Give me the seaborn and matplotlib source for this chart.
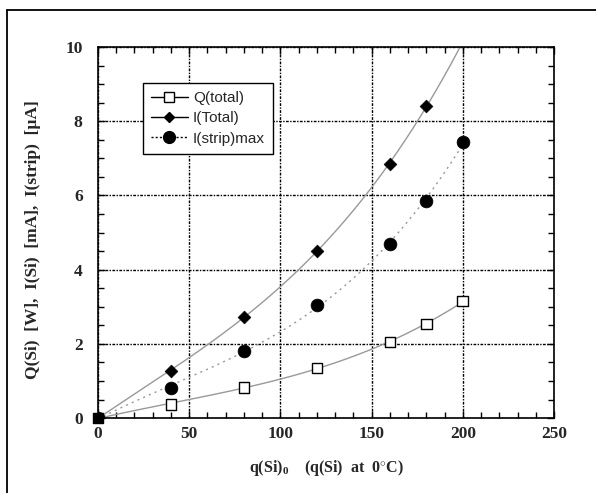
import numpy as np
import pandas as pd
import matplotlib
matplotlib.use("Agg")
import matplotlib.pyplot as plt
from matplotlib.lines import Line2D
from matplotlib.ticker import MultipleLocator
import seaborn as sns

# ---- data ----
q_si = [0, 40, 80, 120, 160, 180, 200]
q_total = [0, 0.37, 0.83, 1.35, 2.05, 2.53, 3.15]
q_si_itot = [0, 40, 80, 120, 160, 180]
i_total = [0, 1.27, 2.73, 4.51, 6.84, 8.41]
q_si_strip = [0, 40, 80, 120, 160, 180, 200]
i_strip = [0, 0.81, 1.81, 3.05, 4.70, 5.86, 7.43]

x_ticks = [0, 50, 100, 150, 200, 250]
y_ticks = [0, 2, 4, 6, 8, 10]

sns.set_style("ticks")
plt.rcParams["font.family"] = ["Liberation Serif", "DejaVu Serif"]
plt.rcParams["mathtext.fontset"] = "custom"
plt.rcParams["mathtext.rm"] = "Liberation Serif:bold"
plt.rcParams["mathtext.bf"] = "Liberation Serif:bold"
plt.rcParams["mathtext.it"] = "Liberation Serif:bold"

fig = plt.figure(figsize=(5.96, 4.93), dpi=100)
ax = fig.add_axes([0.1644, 0.152, 0.7651, 0.7527])

# fitted curves
def fit_curve(xs, ys, x_end, deg=3):
    c = np.polyfit(xs, ys, deg)
    xx = np.linspace(0, x_end, 200)
    return pd.DataFrame({"x": xx, "y": np.polyval(c, xx)})

cq = fit_curve(q_si, q_total, 200)
ci = fit_curve(q_si_itot, i_total, 205)
cs = fit_curve(q_si_strip, i_strip, 200)

sns.lineplot(data=cq, x="x", y="y", ax=ax, color="#999999", lw=1.0, sort=False)
sns.lineplot(data=ci, x="x", y="y", ax=ax, color="#999999", lw=1.0, sort=False)
sns.lineplot(data=cs, x="x", y="y", ax=ax, color="#999999", lw=1.0, sort=False,
             linestyle=(0, (1.5, 3)))

dq = pd.DataFrame({"x": q_si, "y": q_total})
di = pd.DataFrame({"x": q_si_itot, "y": i_total})
ds = pd.DataFrame({"x": q_si_strip, "y": i_strip})

sns.scatterplot(data=ds, x="x", y="y", ax=ax, marker="o", s=85, color="black",
                edgecolor="black", linewidth=0.5, zorder=5)
sns.scatterplot(data=di, x="x", y="y", ax=ax, marker="D", s=42, color="black",
                edgecolor="black", linewidth=0.5, zorder=5)
fc = ["black" if v == 0 else "white" for v in q_si]
ax.scatter(dq["x"], dq["y"], marker="s", s=58, facecolors=fc,
           edgecolors="black", linewidths=1.0, zorder=6, clip_on=False)

ax.set_xlim(0, 250)
ax.set_ylim(0, 10)
ax.set_xticks(x_ticks)
ax.set_yticks(y_ticks)
ax.xaxis.set_minor_locator(MultipleLocator(10))
ax.yaxis.set_minor_locator(MultipleLocator(0.5))
ax.tick_params(which="both", direction="in", top=True, right=True,
               width=1.0, color="black")
ax.tick_params(which="major", length=5, labelsize=12.5)
ax.tick_params(axis="y", which="major", pad=11)
ax.tick_params(axis="x", which="major", pad=6)
ax.tick_params(which="minor", length=4)
for lab in ax.get_xticklabels() + ax.get_yticklabels():
    lab.set_fontweight("bold")
for sp in ax.spines.values():
    sp.set_linewidth(1.2)
    sp.set_color("black")

ax.grid(True, which="major", color="black", linestyle=(0, (2, 1, 1, 1)), lw=1.0)
ax.set_axisbelow(True)

ax.set_xlabel(r"q(Si)$_{0}$    (q(Si)  at  0$^{\circ}$C)", fontsize=11.5,
              fontweight="bold", labelpad=11)
ax.set_ylabel("Q(Si)  [W],  I(Si)  [mA],  I(strip)  [µA]", fontsize=12.5,
              fontweight="bold")
ax.yaxis.set_label_coords(-0.125, 0.48)

handles = [
    Line2D([], [], color="black", lw=1, marker="s", markerfacecolor="white",
           markeredgecolor="black", markersize=7),
    Line2D([], [], color="black", lw=1, marker="D", markerfacecolor="black",
           markersize=5.5),
    Line2D([], [], color="black", lw=1, linestyle=(0, (1.5, 1.5)), marker="o",
           markerfacecolor="black", markersize=8.5),
]
labels = ["Q(total)", "I(Total)", "I(strip)max"]
leg = ax.legend(handles, labels, loc="upper left", bbox_to_anchor=(0.098, 0.903),
                frameon=True, fancybox=False, framealpha=1, edgecolor="black",
                prop={"family": "Liberation Sans", "size": 11},
                handlelength=2.4, handletextpad=0.35, labelspacing=0.4,
                borderpad=0.55, borderaxespad=0)
leg.get_frame().set_linewidth(1.0)

# figure frame lines
fig.add_artist(Line2D([0.0117, 1.0], [0.9797, 0.9797], color="black", lw=1.3,
                      transform=fig.transFigure))
fig.add_artist(Line2D([0.0117, 0.0117], [0.0, 0.9797], color="black", lw=1.3,
                      transform=fig.transFigure))

fig.savefig("out.png", dpi=100)
